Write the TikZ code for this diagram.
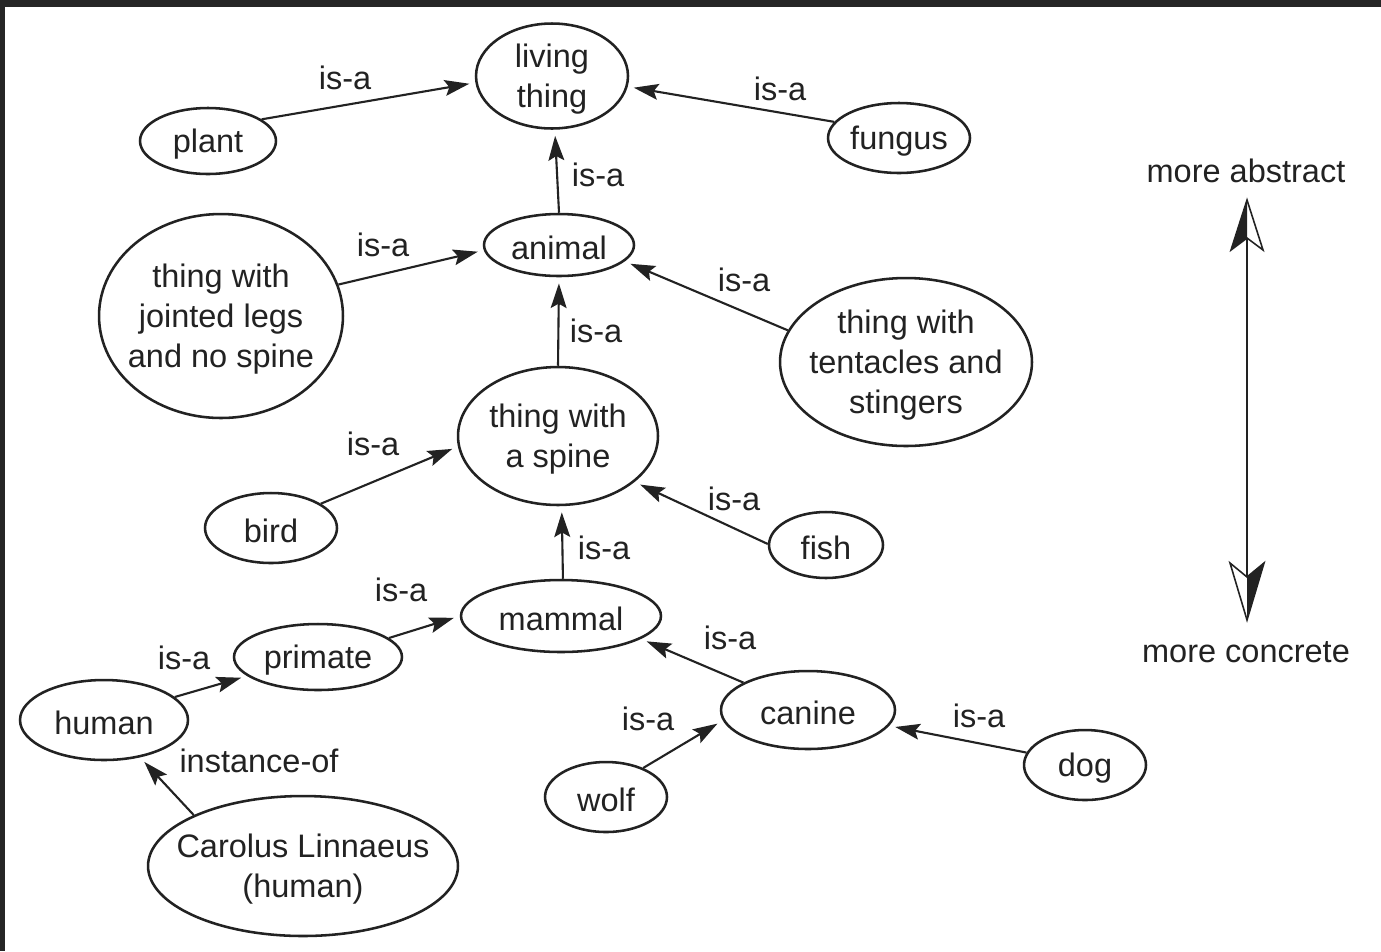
\documentclass[tikz,border=0pt]{standalone}
\usepackage{fontspec}
\setmainfont{Liberation Sans}
\usetikzlibrary{shapes.geometric,arrows.meta}
\definecolor{frame}{HTML}{262626}
\definecolor{ink}{HTML}{222222}
\begin{document}
\begin{tikzpicture}[x=0.02cm,y=-0.02cm,
  every node/.style={font=\fontsize{18.5}{22.8}\selectfont, text=ink},
  ell/.style={draw=ink, line width=1.45pt, ellipse, inner sep=0pt},
  lbl/.style={inner sep=1pt},
  arr/.style={draw=ink, line width=1.2pt, shorten >=3.5pt,
    -{Stealth[length=14pt,width=9pt,inset=2.5pt]}}
]
% frame and bounding box
\fill[frame] (0,0) rectangle (1381,951);
\fill[white] (5,7) rectangle (1381,951);
\useasboundingbox (0,0) rectangle (1381,951);

% nodes
\newcommand{\ellnode}[6]{%
  \node[ell, minimum width=#4cm, minimum height=#5cm,
        label={[align=center, yshift=-0.06cm]center:#6}] (#1) at (#2,#3) {};}
\ellnode{living}{552}{76}{3.04}{2.10}{living\\thing}
\ellnode{plant}{208}{141}{2.72}{1.32}{plant}
\ellnode{fungus}{899}{138}{2.84}{1.40}{fungus}
\ellnode{animal}{559}{245}{3.00}{1.24}{animal}
\ellnode{jointed}{221}{316}{4.88}{4.08}{thing with\\jointed legs\\and no spine}
\ellnode{tentacles}{906}{362}{5.04}{3.36}{thing with\\tentacles and\\stingers}
\ellnode{spine}{558}{436}{4.00}{2.76}{thing with\\a spine}
\ellnode{bird}{271}{528}{2.64}{1.40}{bird}
\ellnode{fish}{826}{545}{2.28}{1.32}{fish}
\ellnode{mammal}{561}{616}{4.00}{1.44}{mammal}
\ellnode{primate}{318}{657}{3.36}{1.32}{primate}
\ellnode{human}{104}{720}{3.36}{1.60}{human}
\ellnode{canine}{808}{710}{3.48}{1.56}{canine}
\ellnode{dog}{1085}{765}{2.44}{1.40}{dog}
\ellnode{wolf}{606}{797}{2.44}{1.40}{wolf}
\ellnode{carolus}{303}{866}{6.20}{2.80}{Carolus Linnaeus\\(human)}

% connectors
\draw[arr] (plant.22) -- (living.185);
\draw[arr] (fungus.166) -- (living.-8);
\draw[arr] (animal.90) -- (living.-87);
\draw[arr] (jointed.15) -- (animal.184);
\draw[arr] (tentacles.165) -- (animal.-14);
\draw[arr] (spine.90) -- (animal.-90);
\draw[arr] (bird.26) -- (spine.186);
\draw[arr] (fish.179) -- (spine.-31);
\draw[arr] (mammal.87) -- (spine.-87);
\draw[arr] (primate.15) -- (mammal.180);
\draw[arr] (human.18) -- (primate.195);
\draw[arr] (carolus.155) -- (human.-46);
\draw[arr] (canine.157) -- (mammal.-16);
\draw[arr] (wolf.38) -- (canine.187);
\draw[arr] (dog.168) -- (canine.-11);

% connector labels
\node[lbl] (l1) at (345,78) {is-a};
\node[lbl] (l2) at (780,89) {is-a};
\node[lbl] (l3) at (598,175) {is-a};
\node[lbl] (l4) at (383,245) {is-a};
\node[lbl] (l5) at (744,280) {is-a};
\node[lbl] (l6) at (596,331) {is-a};
\node[lbl] (l7) at (373,444) {is-a};
\node[lbl] (l8) at (734,499) {is-a};
\node[lbl] (l9) at (604,548) {is-a};
\node[lbl] (l10) at (401,590) {is-a};
\node[lbl] (l11) at (184,658) {is-a};
\node[lbl] (l12) at (259,761) {instance-of};
\node[lbl] (l13) at (730,638) {is-a};
\node[lbl] (l14) at (648,719) {is-a};
\node[lbl] (l15) at (979,716) {is-a};

% abstract / concrete scale
\node[lbl] (abs) at (1246,171) {more abstract};
\node[lbl] (con) at (1246,652) {more concrete};
\coordinate (ttip) at (1247,200);
\coordinate (btip) at (1247,620);
\draw[ink, line width=1.2pt] ([yshift=-38*0.02cm]ttip) -- ([yshift=43*0.02cm]btip);
% top head: left half dark
\filldraw[draw=ink, fill=white, line width=0.9pt, line join=miter]
  (ttip) -- ++(-16,50) -- ++(16,-12) -- ++(16,12) -- cycle;
\fill[ink] (ttip) -- ++(-16,50) -- ++(16,-12) -- cycle;
% bottom head: right half dark
\filldraw[draw=ink, fill=white, line width=0.9pt, line join=miter]
  (btip) -- ++(-17,-57) -- ++(17,14) -- ++(17,-14) -- cycle;
\fill[ink] (btip) -- ++(17,-57) -- ++(-17,14) -- cycle;
\end{tikzpicture}
\end{document}
